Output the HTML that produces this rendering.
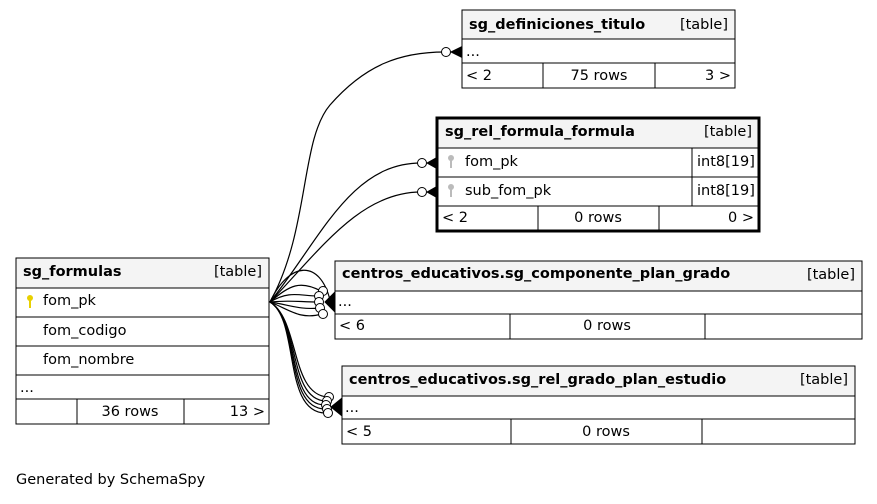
<!DOCTYPE html>
<html><head><meta charset="utf-8"><style>
body{margin:0;background:#fff;}
svg text{font-family:"DejaVu Sans","Liberation Sans",sans-serif;font-size:14.5px;fill:#000;}
.b{font-weight:bold;}
</style></head><body>
<svg width="877" height="499" viewBox="0 0 877 499" xmlns="http://www.w3.org/2000/svg">
<g fill="none" stroke="#000" stroke-width="1.2">
<path d="M270,302 C310,230 300,140 330,105 C365,65 400,52 445,52"/>
<path d="M270,302 C320,240 350,163 421,163"/>
<path d="M270,302 C320,250 360,192 421,192"/>
<path d="M270,302 C290,285 300,280 321,291"/>
<path d="M270,302 C290,290 300,296 318,296"/>
<path d="M270,302 C290,300 300,302 318,302"/>
<path d="M270,302 C290,305 300,310 319,308"/>
<path d="M270,302 C290,310 300,320 322,314"/>
<path d="M270,302 C290,260 320,260 330,300"/>
<path d="M270,302 C300,320 290,395 328,397"/>
<path d="M270,302 C300,320 288,400 326,401"/>
<path d="M270,302 C300,320 286,405 325,405"/>
<path d="M270,302 C300,320 284,410 326,409"/>
<path d="M270,302 C300,320 282,415 327,413"/>
</g>
<g fill="#fff" stroke="#000" stroke-width="1">
<circle cx="446" cy="52" r="4.5"/>
<circle cx="422" cy="163" r="4.5"/>
<circle cx="422" cy="192" r="4.5"/>
<circle cx="323" cy="291" r="4.5"/><circle cx="319" cy="296" r="4.5"/><circle cx="319" cy="302" r="4.5"/><circle cx="320" cy="308" r="4.5"/><circle cx="323" cy="314" r="4.5"/>
<circle cx="329" cy="397" r="4.5"/><circle cx="327" cy="401" r="4.5"/><circle cx="326" cy="405" r="4.5"/><circle cx="327" cy="409" r="4.5"/><circle cx="328" cy="413" r="4.5"/>
</g>
<g fill="#000" stroke="#000" stroke-width="1">
<path d="M451,52 L461,47 L461,57 Z"/>
<path d="M427,163 L436,158 L436,168 Z"/>
<path d="M427,192 L436,187 L436,197 Z"/>
<path d="M325,302 L335,292 L335,312 Z"/>
<path d="M331,407 L342,398 L342,416 Z"/>
</g>
<g stroke="#000" stroke-width="1">
<rect x="462" y="10" width="273" height="29" fill="#f4f4f4"/>
<rect x="462" y="39" width="273" height="24" fill="#fff"/>
<rect x="462" y="63" width="273" height="25" fill="#fff"/>
<line x1="543" y1="63" x2="543" y2="88"/><line x1="655" y1="63" x2="655" y2="88"/>
</g>
<text x="469" y="29" class="b">sg_definiciones_titulo</text><text x="728" y="29" text-anchor="end">[table]</text>
<text x="466" y="56">...</text>
<text x="466" y="80">&lt; 2</text><text x="599" y="80" text-anchor="middle">75 rows</text><text x="731" y="80" text-anchor="end">3 &gt;</text>
<g stroke="#000" stroke-width="1">
<rect x="438" y="119" width="320" height="29" fill="#f4f4f4"/>
<rect x="438" y="148" width="320" height="29" fill="#fff"/>
<rect x="438" y="177" width="320" height="29" fill="#fff"/>
<rect x="438" y="206" width="320" height="24" fill="#fff"/>
<line x1="692" y1="148" x2="692" y2="206"/>
<line x1="538" y1="206" x2="538" y2="230"/><line x1="659" y1="206" x2="659" y2="230"/>
<rect x="437" y="118" width="322" height="113" fill="none" stroke-width="3"/>
</g>
<text x="445" y="136" class="b">sg_rel_formula_formula</text><text x="752" y="136" text-anchor="end">[table]</text>
<g fill="#bbb"><circle cx="451" cy="158" r="3"/><rect x="450" y="160" width="2" height="8"/><circle cx="451" cy="187" r="3"/><rect x="450" y="189" width="2" height="8"/></g>
<text x="465" y="166">fom_pk</text><text x="697" y="166">int8[19]</text>
<text x="465" y="195">sub_fom_pk</text><text x="697" y="195">int8[19]</text>
<text x="442" y="222">&lt; 2</text><text x="598" y="222" text-anchor="middle">0 rows</text><text x="754" y="222" text-anchor="end">0 &gt;</text>
<g stroke="#000" stroke-width="1">
<rect x="16" y="258" width="253" height="30" fill="#f4f4f4"/>
<rect x="16" y="288" width="253" height="29" fill="#fff"/>
<rect x="16" y="317" width="253" height="29" fill="#fff"/>
<rect x="16" y="346" width="253" height="29" fill="#fff"/>
<rect x="16" y="375" width="253" height="24" fill="#fff"/>
<rect x="16" y="399" width="253" height="25" fill="#fff"/>
<line x1="77" y1="399" x2="77" y2="424"/><line x1="184" y1="399" x2="184" y2="424"/>
</g>
<text x="23" y="276" class="b">sg_formulas</text><text x="262" y="276" text-anchor="end">[table]</text>
<g fill="#e8d000"><circle cx="30" cy="298" r="3"/><rect x="29" y="300" width="2" height="8"/></g>
<text x="43" y="305">fom_pk</text>
<text x="43" y="335">fom_codigo</text>
<text x="43" y="364">fom_nombre</text>
<text x="20" y="392">...</text>
<text x="130" y="416" text-anchor="middle">36 rows</text><text x="265" y="416" text-anchor="end">13 &gt;</text>
<g stroke="#000" stroke-width="1">
<rect x="335" y="261" width="527" height="30" fill="#f4f4f4"/>
<rect x="335" y="291" width="527" height="23" fill="#fff"/>
<rect x="335" y="314" width="527" height="25" fill="#fff"/>
<line x1="510" y1="314" x2="510" y2="339"/><line x1="705" y1="314" x2="705" y2="339"/>
</g>
<text x="342" y="278" class="b">centros_educativos.sg_componente_plan_grado</text><text x="855" y="279" text-anchor="end">[table]</text>
<text x="338" y="306">...</text>
<text x="339" y="330">&lt; 6</text><text x="607" y="330" text-anchor="middle">0 rows</text>
<g stroke="#000" stroke-width="1">
<rect x="342" y="366" width="513" height="30" fill="#f4f4f4"/>
<rect x="342" y="396" width="513" height="23" fill="#fff"/>
<rect x="342" y="419" width="513" height="25" fill="#fff"/>
<line x1="511" y1="419" x2="511" y2="444"/><line x1="702" y1="419" x2="702" y2="444"/>
</g>
<text x="349" y="384" class="b">centros_educativos.sg_rel_grado_plan_estudio</text><text x="848" y="384" text-anchor="end">[table]</text>
<text x="345" y="412">...</text>
<text x="346" y="436">&lt; 5</text><text x="606" y="436" text-anchor="middle">0 rows</text>
<text x="16" y="484">Generated by SchemaSpy</text>
</svg>
</body></html>
